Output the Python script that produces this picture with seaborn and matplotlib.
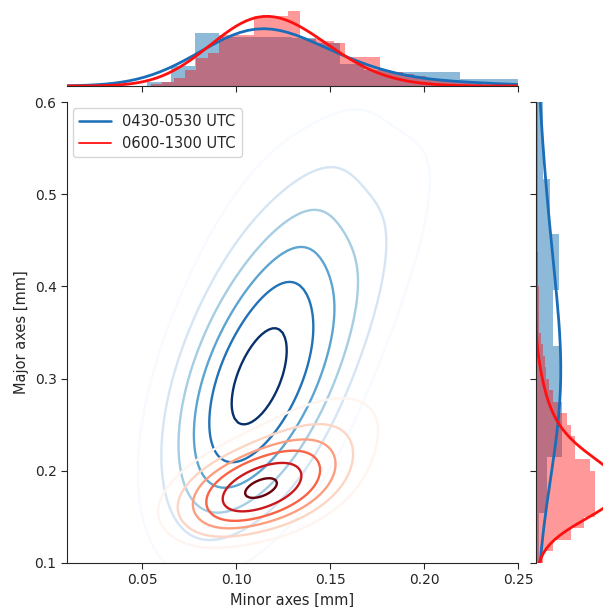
import numpy as np
import pandas as pd
import matplotlib
matplotlib.use("Agg")
import matplotlib.pyplot as plt
from matplotlib.lines import Line2D
import seaborn as sns

sns.set_style("ticks")
plt.rcParams['font.family'] = ['DejaVu Sans']

# ---------------- data (read / estimated from the reference) ----------------
# representative weighted observations (minor, major axis in mm) per period
blue_label = "0430-0530 UTC"
blue_minor = [0.085, 0.115,
              0.075, 0.105, 0.135,
              0.078, 0.108, 0.140,
              0.085, 0.117, 0.152,
              0.095, 0.127, 0.165,
              0.105, 0.142, 0.182,
              0.125, 0.167, 0.215,
              0.210, 0.235]
blue_major = [0.160, 0.160,
              0.220, 0.220, 0.220,
              0.285, 0.285, 0.285,
              0.345, 0.345, 0.345,
              0.415, 0.415, 0.415,
              0.495, 0.495, 0.495,
              0.575, 0.575, 0.575,
              0.420, 0.520]
blue_weight = [0.25, 0.25,
               0.35, 0.9, 0.4,
               0.5, 2.2, 0.6,
               0.45, 1.05, 0.6,
               0.35, 0.95, 0.55,
               0.22, 0.5, 0.32,
               0.14, 0.22, 0.18,
               0.12, 0.1]

red_label = "0600-1300 UTC"
red_minor = [0.098, 0.120,
             0.085, 0.110, 0.136,
             0.105, 0.127, 0.150,
             0.125, 0.147, 0.170,
             0.140, 0.162, 0.184,
             0.140, 0.084]
red_major = [0.156, 0.156,
             0.176, 0.176, 0.176,
             0.205, 0.205, 0.205,
             0.245, 0.245, 0.245,
             0.290, 0.290, 0.290,
             0.166, 0.196]
red_weight = [0.45, 0.35,
              0.9, 2.8, 0.9,
              0.6, 1.0, 0.5,
              0.35, 0.45, 0.25,
              0.12, 0.18, 0.1,
              0.4, 0.4]

# marginal histograms (bin edges and relative counts)
blue_minor_edges = list(np.linspace(0.0527, 0.2575, 17))
blue_minor_counts = [4, 20, 54, 50, 50, 49, 48, 43, 22, 16, 14, 14, 14, 7, 7, 7]
red_minor_edges = list(np.linspace(0.0545, 0.2375, 31))
red_minor_counts = [2, 4, 8, 16, 28, 33, 52, 52, 52, 71, 71, 71, 76, 48, 48, 46, 44,
                    29, 29, 29, 16, 14, 12, 10, 7, 5, 4, 3, 2, 1]
blue_major_edges = [0.0935, 0.154, 0.2145, 0.275, 0.3355, 0.396, 0.4565, 0.517, 0.5775, 0.638]
blue_major_counts = [3, 12, 28, 27, 18, 25, 15, 8, 8]
red_major_edges = list(np.linspace(0.10, 0.45, 29))
red_major_counts = [8, 20, 40, 55, 68, 68, 68, 68, 62, 45, 45, 40, 35, 26, 20, 15, 12,
                    10, 8, 6, 4, 4, 3, 3, 2, 2, 2, 1]

x_ticks = [0.05, 0.10, 0.15, 0.20, 0.25]
y_ticks = [0.1, 0.2, 0.3, 0.4, 0.5, 0.6]

# ---------------- styling ----------------
BLUE_LINE = "#1a6db8"
RED_LINE = "#ff1010"
BLUE_FILL = "#1f77b4"
RED_FILL = "#ff0000"
blue_bw = 0.75
red_bw = 0.85
blue_levels = [0.15, 0.3, 0.45, 0.6, 0.75, 0.92]
red_levels = [0.15, 0.3, 0.45, 0.6, 0.78, 0.96]

W, H = 603, 607
fig = plt.figure(figsize=(W / 100, H / 100), dpi=100)
ax = fig.add_axes([67 / W, 44 / H, 451 / W, 461 / H])
axt = fig.add_axes([67 / W, (H - 86) / H, 451 / W, 86 / H], sharex=ax)
axr = fig.add_axes([536 / W, 44 / H, 67 / W, 461 / H], sharey=ax)

# joint density contours
sns.kdeplot(x=blue_minor, y=blue_major, weights=blue_weight, bw_method=blue_bw,
            levels=blue_levels, cmap="Blues", linewidths=1.7, ax=ax)
sns.kdeplot(x=red_minor, y=red_major, weights=red_weight, bw_method=red_bw,
            levels=red_levels, cmap="Reds", linewidths=1.7, ax=ax)

# top marginal
def centers(edges):
    e = np.asarray(edges)
    return list((e[:-1] + e[1:]) / 2)

sns.histplot(x=centers(blue_minor_edges), weights=blue_minor_counts, bins=blue_minor_edges,
             stat="density", color=BLUE_FILL, alpha=0.5, linewidth=0, ax=axt)
sns.histplot(x=centers(red_minor_edges), weights=red_minor_counts, bins=red_minor_edges,
             stat="density", color=RED_FILL, alpha=0.4, linewidth=0, ax=axt)
sns.kdeplot(x=blue_minor, weights=blue_weight, bw_method=blue_bw, cut=10,
            color=BLUE_LINE, lw=2, ax=axt)
sns.kdeplot(x=red_minor, weights=red_weight, bw_method=red_bw, cut=10,
            color=RED_LINE, lw=2, ax=axt)

# right marginal
sns.histplot(y=centers(blue_major_edges), weights=blue_major_counts, bins=blue_major_edges,
             stat="density", color=BLUE_FILL, alpha=0.5, linewidth=0, ax=axr)
sns.histplot(y=centers(red_major_edges), weights=red_major_counts, bins=red_major_edges,
             stat="density", color=RED_FILL, alpha=0.4, linewidth=0, ax=axr)
sns.kdeplot(y=blue_major, weights=blue_weight, bw_method=blue_bw, cut=10,
            color=BLUE_LINE, lw=2, ax=axr)
sns.kdeplot(y=red_major, weights=red_weight, bw_method=red_bw, cut=10,
            color=RED_LINE, lw=2, ax=axr)

# axes cosmetics
ax.set_xlim(0.01, 0.25)
ax.set_ylim(0.1, 0.6)
ax.set_xticks(x_ticks)
ax.set_yticks(y_ticks)
ax.tick_params(labelsize=10, length=4)
sns.despine(ax=ax)

axt.set_ylim(0, 16.2)
axt.set_ylabel("")
for s in ["top", "right", "left"]:
    axt.spines[s].set_visible(False)
axt.tick_params(axis="x", labelbottom=False, length=4)
axt.tick_params(axis="y", left=False, labelleft=False)

axr.set_xlim(0, 8.3)
axr.set_xlabel("")
for s in ["top", "right", "bottom"]:
    axr.spines[s].set_visible(False)
axr.tick_params(axis="y", labelleft=False, length=4)
axr.tick_params(axis="x", bottom=False, labelbottom=False)
ax.set_xlabel("Minor axes [mm]", fontsize=10.5)
ax.set_ylabel("Major axes [mm]", fontsize=10.5)

handles = [Line2D([], [], color=BLUE_LINE, lw=1.8, label=blue_label),
           Line2D([], [], color=RED_LINE, lw=1.3, label=red_label)]
ax.legend(handles=handles, loc="upper left", fontsize=10.5, frameon=True,
          handlelength=2.2, borderaxespad=0.4)

fig.savefig("out.png", dpi=100)
